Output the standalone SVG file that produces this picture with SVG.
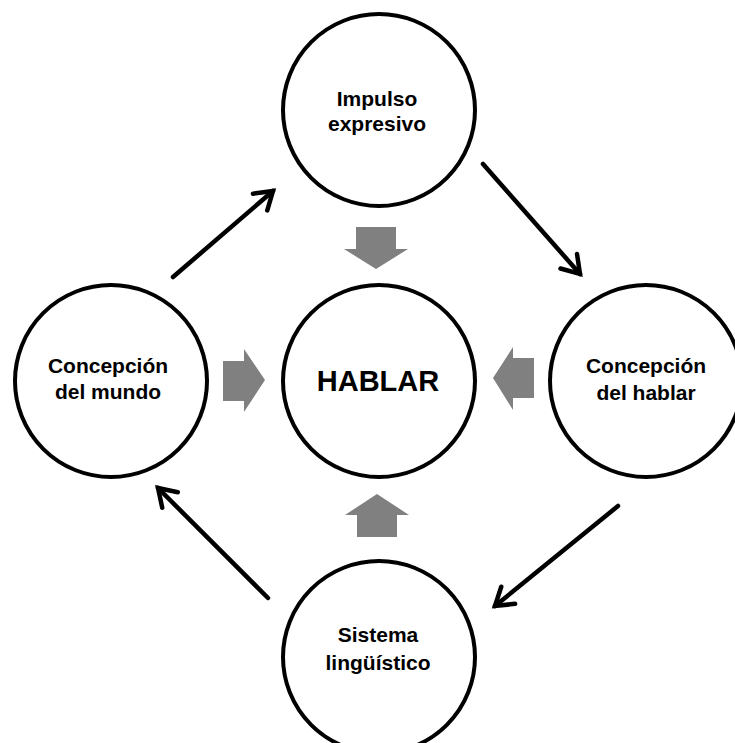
<svg xmlns="http://www.w3.org/2000/svg" width="735" height="743" viewBox="0 0 735 743">
  <style>
    .node circle { fill: #ffffff; stroke: #000000; stroke-width: 4; }
    .label { font-family: "Liberation Sans", Arial, sans-serif; font-weight: bold; font-size: 21px; fill: #000000; text-anchor: middle; }
    .big { font-size: 29px; }
    .flow { stroke: #000000; stroke-width: 4.5; fill: none; stroke-linecap: round; marker-end: url(#open); }
    .block { fill: #808080; stroke: none; }
  </style>
  <defs>
    <marker id="open" markerUnits="userSpaceOnUse" markerWidth="40" markerHeight="40" viewBox="-30 -20 40 40" refX="0" refY="0" orient="auto">
      <path d="M -17,-11 L 0,0 L -17,11" fill="none" stroke="#000000" stroke-width="4.5" stroke-linecap="round" stroke-linejoin="miter"/>
    </marker>
  </defs>
  <rect width="735" height="743" fill="#ffffff"/>

  <!-- nodes -->
  <g id="impulso" class="node">
    <circle cx="379" cy="110" r="96"/>
    <text class="label" x="377" y="106">Impulso</text>
    <text class="label" x="377" y="131">expresivo</text>
  </g>
  <g id="hablar" class="node">
    <circle cx="379" cy="381" r="96"/>
    <text class="label big" x="378" y="391">HABLAR</text>
  </g>
  <g id="concepcion-mundo" class="node">
    <circle cx="111" cy="381" r="96"/>
    <text class="label" x="108" y="373">Concepción</text>
    <text class="label" x="108" y="399">del mundo</text>
  </g>
  <g id="concepcion-hablar" class="node">
    <circle cx="646" cy="381" r="96"/>
    <text class="label" x="646" y="373">Concepción</text>
    <text class="label" x="646" y="400">del hablar</text>
  </g>
  <g id="sistema" class="node">
    <circle cx="379" cy="657" r="96"/>
    <text class="label" x="378" y="642">Sistema</text>
    <text class="label" x="378" y="670">lingüístico</text>
  </g>

  <!-- connectors -->
  <g id="connectors">
    <line class="flow" x1="173" y1="277" x2="273" y2="191"/>
    <line class="flow" x1="483" y1="164" x2="580" y2="274"/>
    <line class="flow" x1="618" y1="506" x2="495" y2="606"/>
    <line class="flow" x1="268" y1="598" x2="158" y2="488"/>
    <!-- block arrows pointing into the centre -->
    <polygon class="block" points="356,227 396,227 396,249 408,249 376,269 344,249 356,249"/>
    <polygon class="block" points="357,537 397,537 397,515 409,515 377,494 345,515 357,515"/>
    <polygon class="block" points="223,361 244,361 244,349 265,380 244,412 244,401 223,401"/>
    <polygon class="block" points="534,358 513,358 513,347 493,378 513,410 513,398 534,398"/>
  </g>
</svg>
